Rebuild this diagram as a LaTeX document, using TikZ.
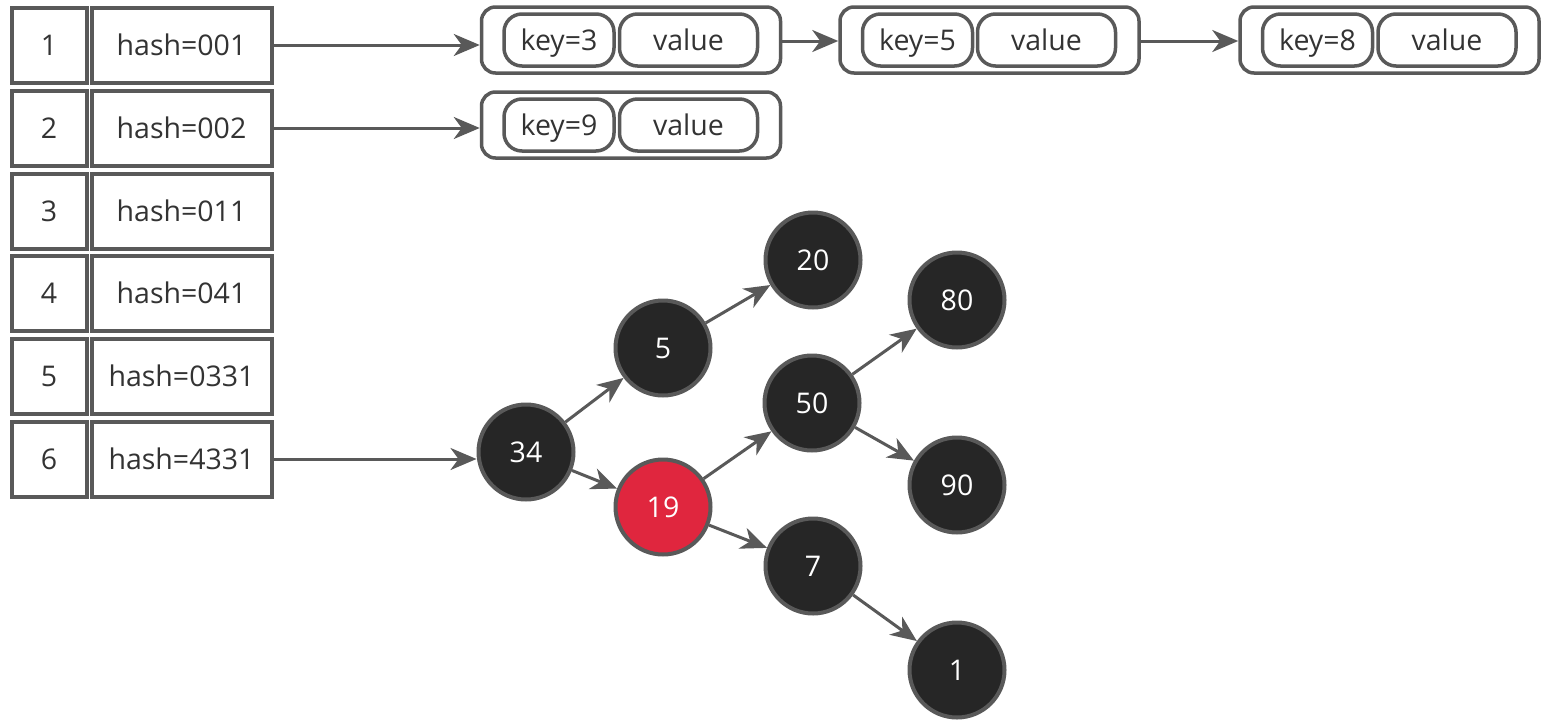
\documentclass[tikz,border=0pt]{standalone}
\usepackage{fontspec}
\setmainfont{Open Sans}
\usetikzlibrary{arrows.meta}
\definecolor{edge}{HTML}{595959}
\definecolor{nodefill}{HTML}{262626}
\definecolor{redfill}{HTML}{E0263E}
\definecolor{txt}{HTML}{333333}
\begin{document}
\begin{tikzpicture}[x=1pt,y=-1pt,
  lbl/.style={font=\fontsize{28.5}{32}\selectfont,text height=26pt,text depth=5.6pt},
  cell/.style={lbl,draw=edge,line width=4pt,fill=white,minimum height=75pt,inner sep=0pt,text=txt},
  outerbox/.style={draw=edge,line width=3.5pt,rounded corners=14pt,minimum width=299pt,minimum height=66pt,inner sep=0pt},
  kbox/.style={lbl,draw=edge,line width=3.5pt,rounded corners=18pt,minimum width=110pt,minimum height=52pt,inner sep=0pt,text=txt},
  vbox/.style={lbl,draw=edge,line width=3.5pt,rounded corners=18pt,minimum width=138pt,minimum height=52pt,inner sep=0pt,text=txt},
  tnode/.style={lbl,circle,draw=edge,line width=4pt,fill=nodefill,minimum size=95pt,inner sep=0pt,text=white},
  rnode/.style={tnode,fill=redfill},
  conn/.style={draw=edge,line width=3pt,-{Stealth[length=26pt,width=22pt,inset=8pt]}}
]
\useasboundingbox (0,0) rectangle (1555,726);
% table
\foreach \i/\h/\y in {1/001/45,2/002/128,3/011/211,4/041/293,5/0331/376,6/4331/459}{
  \node[cell,minimum width=75pt] (n\i) at (49,\y) {\i};
  \node[cell,minimum width=180pt] (h\i) at (181.5,\y) {hash=\h};
}
% key/value lists
\node[outerbox] (b1) at (631,40) {};
\node[kbox] (k1) at (559,40) {key=3};
\node[vbox] (v1) at (688.5,40) {value};
\node[outerbox] (b2) at (989.5,40) {};
\node[kbox] (k2) at (917.5,40) {key=5};
\node[vbox] (v2) at (1046.5,40) {value};
\node[outerbox] (b3) at (1389.5,40) {};
\node[kbox] (k3) at (1317.5,40) {key=8};
\node[vbox] (v3) at (1447,40) {value};
\node[outerbox] (b4) at (631,125) {};
\node[kbox] (k4) at (559,125) {key=9};
\node[vbox] (v4) at (688.5,125) {value};
% tree
\node[tnode] (t34) at (526,452) {34};
\node[tnode] (t5) at (663,348) {5};
\node[tnode] (t20) at (813,260) {20};
\node[rnode] (t19) at (663,507) {19};
\node[tnode] (t50) at (812,403) {50};
\node[tnode] (t80) at (957,300) {80};
\node[tnode] (t90) at (957,485) {90};
\node[tnode] (t7) at (813,566) {7};
\node[tnode] (t1) at (957,670) {1};
% connectors
\coordinate (a1) at (b1.west |- h1.east);
\coordinate (a2) at (b4.west |- h2.east);
\draw[conn] (h1.east) -- (a1);
\draw[conn] (h2.east) -- (a2);
\draw[conn] (h6.east) -- (h6.east -| t34.west);
\draw[conn] (b1.east |- 0,41) -- (b2.west |- 0,41);
\draw[conn] (b2.east |- 0,41) -- (b3.west |- 0,41);
\draw[conn] (t34) -- (t5);
\draw[conn] (t34) -- (t19);
\draw[conn] (t5) -- (t20);
\draw[conn] (t19) -- (t50);
\draw[conn] (t19) -- (t7);
\draw[conn] (t50) -- (t80);
\draw[conn] (t50) -- (t90);
\draw[conn] (t7) -- (t1);
\end{tikzpicture}
\end{document}
